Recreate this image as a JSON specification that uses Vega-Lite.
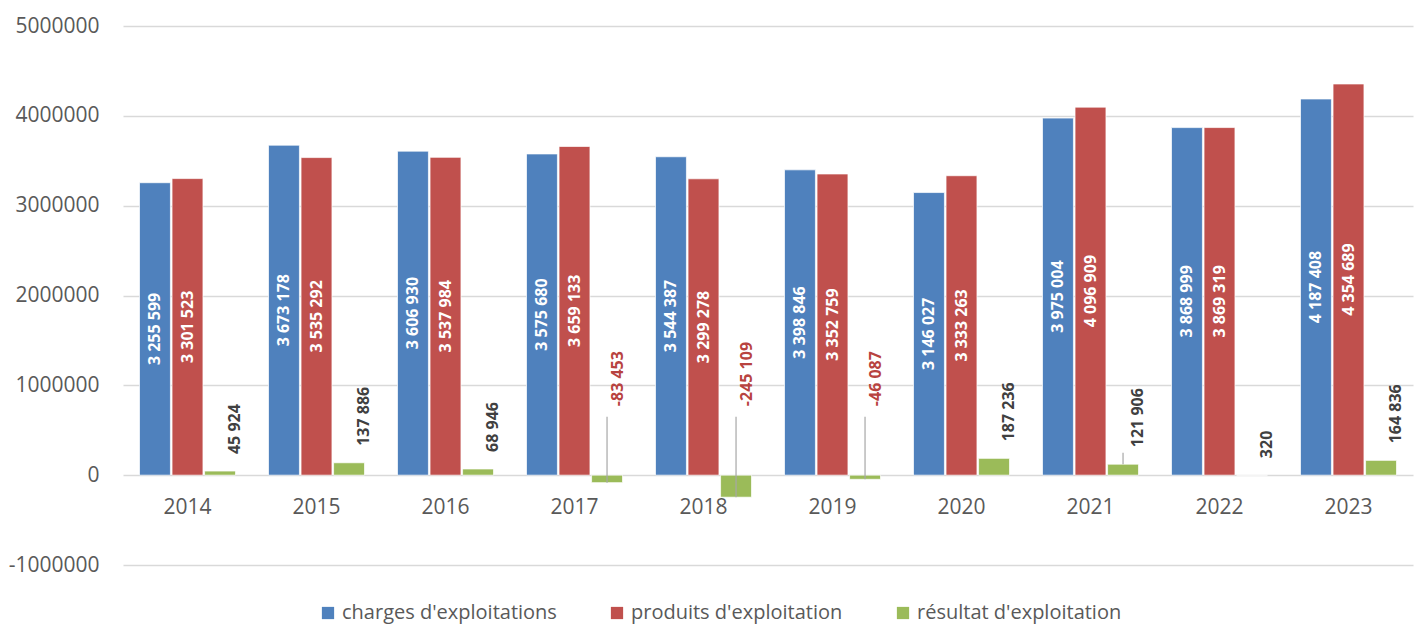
{
  "$schema": "https://vega.github.io/schema/vega-lite/v6.json",
  "width": 1290,
  "height": 539,
  "autosize": {"type": "none"},
  "padding": {"left": 123, "top": 26, "right": 8, "bottom": 62},
  "background": "white",
  "config": {
    "view": {"stroke": null},
    "font": "Open Sans",
    "locale": {"number": {"decimal": ",", "thousands": " ", "grouping": [3], "currency": ["", " €"], "minus": "-"}}
  },
  "data": {
    "values": [
      {"year": "2014", "serie": "charges d'exploitations", "v": 3255599},
      {"year": "2014", "serie": "produits d'exploitation", "v": 3301523},
      {"year": "2014", "serie": "résultat d'exploitation", "v": 45924},
      {"year": "2015", "serie": "charges d'exploitations", "v": 3673178},
      {"year": "2015", "serie": "produits d'exploitation", "v": 3535292},
      {"year": "2015", "serie": "résultat d'exploitation", "v": 137886},
      {"year": "2016", "serie": "charges d'exploitations", "v": 3606930},
      {"year": "2016", "serie": "produits d'exploitation", "v": 3537984},
      {"year": "2016", "serie": "résultat d'exploitation", "v": 68946},
      {"year": "2017", "serie": "charges d'exploitations", "v": 3575680},
      {"year": "2017", "serie": "produits d'exploitation", "v": 3659133},
      {"year": "2017", "serie": "résultat d'exploitation", "v": -83453},
      {"year": "2018", "serie": "charges d'exploitations", "v": 3544387},
      {"year": "2018", "serie": "produits d'exploitation", "v": 3299278},
      {"year": "2018", "serie": "résultat d'exploitation", "v": -245109},
      {"year": "2019", "serie": "charges d'exploitations", "v": 3398846},
      {"year": "2019", "serie": "produits d'exploitation", "v": 3352759},
      {"year": "2019", "serie": "résultat d'exploitation", "v": -46087},
      {"year": "2020", "serie": "charges d'exploitations", "v": 3146027},
      {"year": "2020", "serie": "produits d'exploitation", "v": 3333263},
      {"year": "2020", "serie": "résultat d'exploitation", "v": 187236},
      {"year": "2021", "serie": "charges d'exploitations", "v": 3975004},
      {"year": "2021", "serie": "produits d'exploitation", "v": 4096909},
      {"year": "2021", "serie": "résultat d'exploitation", "v": 121906},
      {"year": "2022", "serie": "charges d'exploitations", "v": 3868999},
      {"year": "2022", "serie": "produits d'exploitation", "v": 3869319},
      {"year": "2022", "serie": "résultat d'exploitation", "v": 320},
      {"year": "2023", "serie": "charges d'exploitations", "v": 4187408},
      {"year": "2023", "serie": "produits d'exploitation", "v": 4354689},
      {"year": "2023", "serie": "résultat d'exploitation", "v": 164836}
    ]
  },
  "encoding": {
    "x": {
      "field": "year", "type": "nominal",
      "scale": {"paddingInner": 0.256, "paddingOuter": 0.128},
      "axis": {
        "title": null, "orient": "bottom", "offset": -90, "domain": false, "ticks": false, "tickSize": 0,
        "labelAngle": 0, "labelFontSize": 21, "labelColor": "#595959", "labelPadding": 21, "labelFont": "Open Sans"
      }
    },
    "xOffset": {
      "field": "serie", "type": "nominal",
      "sort": ["charges d'exploitations", "produits d'exploitation", "résultat d'exploitation"],
      "scale": {"paddingInner": 0.05, "paddingOuter": 0}
    }
  },
  "layer": [
    {
      "mark": {"type": "bar", "stroke": "white", "strokeWidth": 1, "strokeOpacity": 0.7},
      "encoding": {
        "y": {
          "field": "v", "type": "quantitative",
          "scale": {"domain": [-1000000, 5000000], "nice": false, "zero": true},
          "axis": {
            "title": null, "values": [-1000000, 0, 1000000, 2000000, 3000000, 4000000, 5000000],
            "format": "d", "domain": false, "ticks": false, "labelFontSize": 21, "labelColor": "#595959",
            "labelPadding": 24, "gridColor": "#d9d9d9", "gridWidth": 1.5, "labelFont": "Open Sans"
          }
        },
        "color": {
          "field": "serie", "type": "nominal",
          "scale": {
            "domain": ["charges d'exploitations", "produits d'exploitation", "résultat d'exploitation"],
            "range": ["#4F81BD", "#C0504D", "#9BBB59"]
          },
          "legend": {
            "title": null, "orient": "none", "direction": "horizontal", "legendX": 195, "legendY": 577,
            "symbolType": "square", "symbolSize": 150, "symbolStrokeWidth": 0, "labelFontSize": 20,
            "labelColor": "#595959", "labelFont": "Open Sans", "labelLimit": 500, "columnPadding": 50,
            "labelOffset": 4, "padding": 0
          }
        }
      }
    },
    {
      "transform": [
        {"filter": "datum.serie != \"résultat d'exploitation\""},
        {"calculate": "datum.v / 2", "as": "mid"}
      ],
      "mark": {"type": "text", "angle": 270, "align": "center", "baseline": "middle", "fontWeight": "bold", "fontSize": 16, "color": "white", "font": "Open Sans"},
      "encoding": {
        "y": {"field": "mid", "type": "quantitative"},
        "text": {"field": "v", "type": "quantitative", "format": ",d"}
      }
    },
    {
      "transform": [{"filter": "datum.serie == \"résultat d'exploitation\" && datum.v >= 0"}],
      "mark": {"type": "text", "angle": 270, "align": "left", "baseline": "middle", "fontWeight": "bold", "fontSize": 16, "color": "#404040", "dx": 17, "dy": 15, "font": "Open Sans"},
      "encoding": {
        "y": {"field": "v", "type": "quantitative"},
        "text": {"field": "v", "type": "quantitative", "format": ",d"}
      }
    },
    {
      "transform": [{"filter": "datum.serie == \"résultat d'exploitation\" && datum.v < 0"}],
      "mark": {"type": "text", "angle": 270, "align": "left", "baseline": "middle", "fontWeight": "bold", "fontSize": 16, "color": "#B8433F", "dx": 69, "dy": 11, "font": "Open Sans"},
      "encoding": {
        "y": {"datum": 0},
        "text": {"field": "v", "type": "quantitative", "format": ",d"}
      }
    },
    {
      "transform": [{"filter": "datum.serie == \"résultat d'exploitation\" && datum.v < 0"}],
      "mark": {"type": "rule", "color": "#a6a6a6", "strokeWidth": 1.2},
      "encoding": {
        "y": {"field": "v", "type": "quantitative"},
        "y2": {"datum": 650000}
      }
    },
    {
      "transform": [{"filter": "datum.serie == \"résultat d'exploitation\" && datum.year == \"2021\""}],
      "mark": {"type": "rule", "color": "#a6a6a6", "strokeWidth": 1.2},
      "encoding": {
        "y": {"field": "v", "type": "quantitative"},
        "y2": {"datum": 250000}
      }
    }
  ]
}
